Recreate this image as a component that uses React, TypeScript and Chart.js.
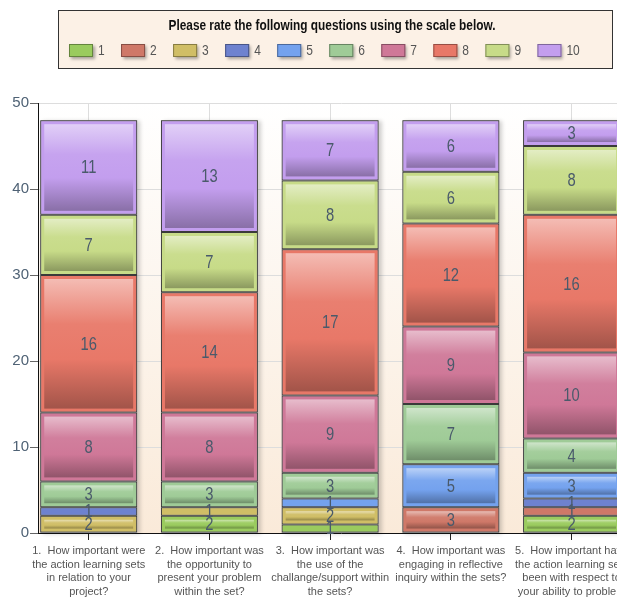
import React, { useEffect, useRef } from "react";
import { Chart, registerables } from "chart.js";

Chart.register(...registerables);

const TITLE = "Please rate the following questions using the scale below.";

const questions: string[][] = [
  ["1.  How important were", "the action learning sets", "in relation to your", "project?"],
  ["2.  How important was", "the opportunity to", "present your problem", "within the set?"],
  ["3.  How important was", "the use of the", "challange/support within", "the sets?"],
  ["4.  How important was", "engaging in reflective", "inquiry within the sets?"],
  ["5.  How important have", "the action learning sets", "been with respect to", "your ability to problem", "solve?"],
];

const scaleLabels = ["1", "2", "3", "4", "5", "6", "7", "8", "9", "10"];

const rating1 = [0, 2, 1, 0, 2];
const rating2 = [0, 0, 0, 3, 1];
const rating3 = [2, 1, 2, 0, 0];
const rating4 = [1, 0, 0, 0, 1];
const rating5 = [0, 0, 1, 5, 3];
const rating6 = [3, 3, 3, 7, 4];
const rating7 = [8, 8, 9, 9, 10];
const rating8 = [16, 14, 17, 12, 16];
const rating9 = [7, 7, 8, 6, 8];
const rating10 = [11, 13, 7, 6, 3];

const seriesValues = [rating1, rating2, rating3, rating4, rating5, rating6, rating7, rating8, rating9, rating10];

const colors = [
  "#9ACB5E", "#CF7868", "#D0BE66", "#6E82CF", "#74A2EE",
  "#9FCB97", "#CF7898", "#E87868", "#C7DB88", "#C39EEE",
];

const SANS = "'Liberation Sans', Arial, sans-serif";

const W = 670;
const H = 620;

function hexToRgb(h: string) {
  const n = parseInt(h.slice(1), 16);
  return [(n >> 16) & 255, (n >> 8) & 255, n & 255];
}
function mix(h: string, target: number, amt: number) {
  const [r, g, b] = hexToRgb(h);
  const f = (c: number) => Math.round(c + (target - c) * amt);
  return `rgb(${f(r)},${f(g)},${f(b)})`;
}

function condensedText(ctx: CanvasRenderingContext2D, text: string, x: number, y: number, sx: number) {
  ctx.save();
  ctx.translate(x, y);
  ctx.scale(sx, 1);
  ctx.fillText(text, 0, 0);
  ctx.restore();
}

const bgPlugin = {
  id: "plotBg",
  beforeDraw(chart: any) {
    const { ctx, chartArea: a } = chart;
    ctx.save();
    const g = ctx.createLinearGradient(0, a.top, 0, a.bottom);
    g.addColorStop(0, "#FFFFFF");
    g.addColorStop(1, "#FAEAD9");
    ctx.fillStyle = g;
    ctx.fillRect(a.left, a.top, a.right - a.left, a.bottom - a.top);
    ctx.restore();
  },
};

const shadowPlugin = {
  id: "stackShadow",
  beforeDatasetsDraw(chart: any) {
    const { ctx } = chart;
    const ys = chart.scales.y;
    const meta0 = chart.getDatasetMeta(0);
    ctx.save();
    meta0.data.forEach((bar: any, j: number) => {
      const total = chart.data.datasets.reduce((s: number, d: any) => s + (d.data[j] || 0), 0);
      const { x, width } = bar.getProps(["x", "width"], true);
      const top = ys.getPixelForValue(total);
      const bottom = ys.getPixelForValue(0);
      ctx.shadowColor = "rgba(0,0,0,0.18)";
      ctx.shadowBlur = 4;
      ctx.shadowOffsetX = 3;
      ctx.shadowOffsetY = 1;
      ctx.fillStyle = "#999";
      ctx.fillRect(x - width / 2, top, width, bottom - top);
    });
    ctx.restore();
  },
};

const glassPlugin = {
  id: "glass",
  afterDatasetsDraw(chart: any) {
    const { ctx } = chart;
    const labels: { x: number; y: number; t: string }[] = [];
    ctx.save();
    chart.data.datasets.forEach((ds: any, i: number) => {
      const meta = chart.getDatasetMeta(i);
      meta.data.forEach((bar: any, j: number) => {
        const v = ds.data[j];
        if (!v) return;
        const { x, y, base, width } = bar.getProps(["x", "y", "base", "width"], true);
        const top = Math.min(y, base);
        const bottom = Math.max(y, base);
        const l = x - width / 2 + 4;
        const r = x + width / 2 - 4;
        const t = top + 4;
        const b = bottom - 4;
        if (b - t >= 4) {
          const c = ds.backgroundColor as string;
          const g = ctx.createLinearGradient(0, t, 0, b);
          g.addColorStop(0, mix(c, 255, 0.5));
          g.addColorStop(0.35, mix(c, 255, 0.05));
          g.addColorStop(0.62, c);
          g.addColorStop(1, mix(c, 0, 0.3));
          ctx.fillStyle = g;
          ctx.fillRect(l, t, r - l, b - t);
        }
        labels.push({ x, y: (top + bottom) / 2, t: String(v) });
      });
    });
    ctx.fillStyle = "#4A5A6B";
    ctx.font = `18px ${SANS}`;
    ctx.textAlign = "center";
    ctx.textBaseline = "middle";
    labels.forEach((p) => condensedText(ctx, p.t, p.x, p.y + 1, 0.82));
    ctx.restore();
  },
};

const legendPlugin = {
  id: "boxLegend",
  afterDraw(chart: any) {
    const { ctx } = chart;
    const cx = chart.width / 2;
    const bw = 554;
    const left = cx - bw / 2;
    const top = 10;
    const bh = 58;
    ctx.save();
    ctx.fillStyle = "#FCF1E6";
    ctx.fillRect(left, top, bw, bh);
    ctx.strokeStyle = "#333";
    ctx.lineWidth = 1;
    ctx.strokeRect(Math.round(left) + 0.5, top + 0.5, bw, bh);

    ctx.fillStyle = "#111";
    ctx.font = `bold 15px ${SANS}`;
    ctx.textAlign = "center";
    ctx.textBaseline = "middle";
    const tw = ctx.measureText(TITLE).width;
    condensedText(ctx, TITLE, cx - 3, top + 16, 327 / tw);

    const step = 52.05;
    const start = cx - 266;
    const sy = top + 34;
    ctx.font = `15px ${SANS}`;
    ctx.textAlign = "left";
    chart.data.datasets.forEach((ds: any, i: number) => {
      const x = start + i * step;
      ctx.save();
      ctx.shadowColor = "rgba(0,0,0,0.35)";
      ctx.shadowBlur = 3;
      ctx.shadowOffsetX = 2;
      ctx.shadowOffsetY = 2;
      ctx.fillStyle = ds.backgroundColor;
      ctx.fillRect(x, sy, 24, 13);
      ctx.restore();
      ctx.strokeStyle = mix(ds.backgroundColor, 0, 0.35);
      ctx.strokeRect(x + 0.5, sy + 0.5, 23, 12);
      ctx.fillStyle = "#555";
      condensedText(ctx, ds.label, x + 29, sy + 7, 0.8);
    });
    ctx.restore();
  },
};

export default function App() {
  const ref = useRef<HTMLCanvasElement | null>(null);

  useEffect(() => {
    if (!ref.current) return;
    const chart = new Chart(ref.current, {
      type: "bar",
      data: {
        labels: questions.map((_, i) => i),
        datasets: seriesValues.map((vals, i) => ({
          label: scaleLabels[i],
          data: vals,
          backgroundColor: colors[i],
          borderColor: "#3A3A3A",
          borderWidth: 1,
          borderSkipped: false,
          categoryPercentage: 1,
          barPercentage: 0.803,
        })),
      },
      options: {
        responsive: false,
        animation: false,
        devicePixelRatio: 1,
        layout: { padding: { top: 103, right: 26, left: 0, bottom: 0 } },
        plugins: { legend: { display: false }, tooltip: { enabled: false }, title: { display: false } },
        scales: {
          x: {
            type: "linear",
            stacked: true,
            min: -0.42,
            max: 4.6,
            offset: false,
            grid: { color: "#DDDDDD", tickColor: "#222", tickLength: 7, offset: false },
            border: { color: "#111", width: 1 },
            ticks: {
              stepSize: 1,
              includeBounds: false,
              autoSkip: false,
              maxRotation: 0,
              minRotation: 0,
              padding: 4,
              color: "#555",
              font: { family: SANS, size: 11, lineHeight: 1.25 },
              callback: (v: any) => (Number.isInteger(v) && questions[v] ? questions[v] : ""),
            },
            afterFit: (s: any) => {
              s.height = H - 533;
            },
          },
          y: {
            stacked: true,
            min: 0,
            max: 50,
            grid: { color: "#DDDDDD", tickColor: "#666", tickLength: 8 },
            border: { color: "#111", width: 1 },
            ticks: {
              stepSize: 10,
              padding: 1,
              color: "#4F6275",
              font: { family: SANS, size: 15 },
            },
            afterFit: (s: any) => {
              s.width = 38;
            },
          },
        },
      },
      plugins: [bgPlugin, shadowPlugin, glassPlugin, legendPlugin],
    } as any);
    return () => chart.destroy();
  }, []);

  return (
    <div style={{ position: "fixed", left: 0, top: 0, width: "100vw", height: "100vh", overflow: "hidden", background: "#fff" }}>
      <canvas ref={ref} width={W} height={H} style={{ display: "block", width: W, height: H }} />
    </div>
  );
}
